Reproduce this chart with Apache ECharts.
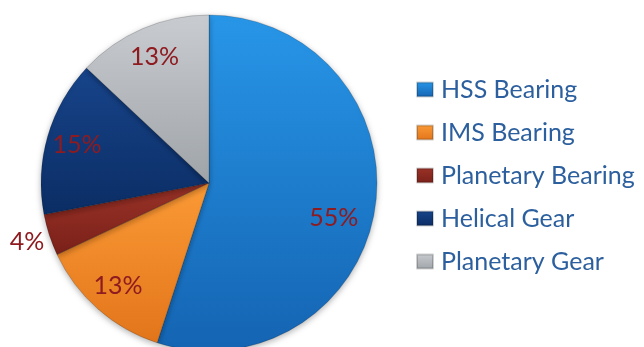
<!DOCTYPE html>
<html>
<head>
<meta charset="utf-8">
<script src="https://cdn.jsdelivr.net/npm/echarts@6/dist/echarts.min.js"></script>
<style>
  html, body { margin: 0; padding: 0; background: #ffffff; }
  #chart { width: 644px; height: 347px; }
</style>
</head>
<body>
<div id="chart"></div>
<script>
// Failure share by component
const categories = ['HSS Bearing', 'IMS Bearing', 'Planetary Bearing', 'Helical Gear', 'Planetary Gear'];
const shares = [55, 13, 4, 15, 13];

// Top / bottom colour of each slice's gradient
const topColors = ['#2896e8', '#fb9a36', '#9a3328', '#17448a', '#c9ccd0'];
const bottomColors = ['#1464b2', '#e2751a', '#7a2019', '#0b2d64', '#9fa4a9'];

const PIE_CENTER = [209, 183];
const PIE_RADIUS = 168;

function grad(i) {
  return {
    type: 'linear', x: 0, y: 0, x2: 0, y2: 1,
    colorStops: [
      { offset: 0, color: topColors[i] },
      { offset: 1, color: bottomColors[i] }
    ]
  };
}

const labelColor = '#8e1b20';
const labelFont = { fontFamily: 'Lato', fontSize: 25, color: labelColor };

// Slices that are too thin get their value outside the rim
const outsideIdx = categories.indexOf('Planetary Bearing');

const mainData = categories.map((name, i) => {
  const item = { name: name, value: shares[i], itemStyle: { color: grad(i) } };
  if (i === outsideIdx) {
    item.label = Object.assign({
      show: true, position: 'outside', formatter: '\n{c}%',
      overflow: 'none', alignTo: 'none', lineHeight: 14
    }, labelFont);
  }
  return item;
});

// Transparent twin pie, only used to place the inner value labels further out
const labelData = categories.map((name, i) => ({
  name: name, value: shares[i],
  label: { show: i !== outsideIdx }
}));

const chart = echarts.init(document.getElementById('chart'), null, { renderer: 'canvas' });
chart.setOption({
  backgroundColor: '#ffffff',
  animation: false,
  legend: {
    orient: 'vertical',
    left: 416,
    top: 77,
    padding: 0,
    itemWidth: 16,
    itemHeight: 14,
    itemGap: 18,
    icon: 'rect',
    data: categories,
    textStyle: { fontFamily: 'Lato', fontSize: 25, color: '#2c5f9e', lineHeight: 23, padding: [0, 0, 0, 3] }
  },
  series: [
    {
      type: 'pie',
      center: PIE_CENTER,
      radius: PIE_RADIUS,
      startAngle: 90,
      clockwise: true,
      data: mainData,
      label: { show: false },
      labelLine: { show: false, length: 0, length2: 0 },
      itemStyle: {
        borderColor: 'rgba(0,0,0,0.18)',
        borderWidth: 1,
        shadowBlur: 6,
        shadowOffsetY: 2,
        shadowColor: 'rgba(0,0,0,0.3)'
      },
      emphasis: { disabled: true }
    },
    {
      type: 'pie',
      center: PIE_CENTER,
      radius: PIE_RADIUS * 1.6,
      startAngle: 90,
      clockwise: true,
      silent: true,
      legendHoverLink: false,
      data: labelData,
      itemStyle: { color: 'rgba(0,0,0,0)' },
      label: Object.assign({ position: 'inside', formatter: '{c}%' }, labelFont),
      labelLine: { show: false },
      // the big slice's value sits a little lower and closer to the centre
      labelLayout: function (params) {
        return params.dataIndex === 0 ? { dx: -11, dy: 13 } : {};
      },
      emphasis: { disabled: true }
    }
  ]
});
</script>
</body>
</html>
